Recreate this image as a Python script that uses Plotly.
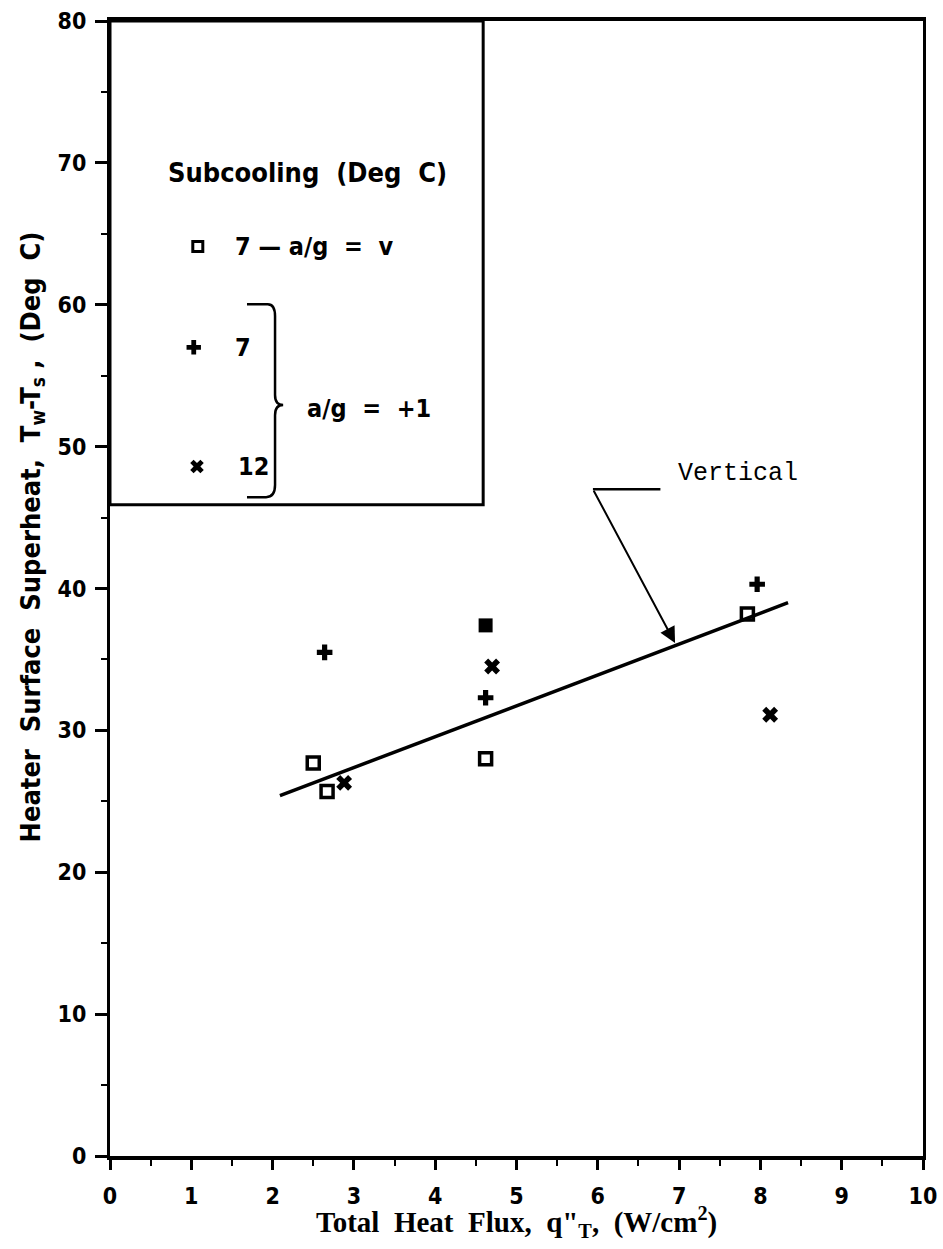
import plotly.graph_objects as go

# ---- data ----
sq_x = [2.50, 2.67, 4.62, 7.84]
sq_y = [27.7, 25.7, 28.0, 38.2]
sq_filled_x = [4.62]
sq_filled_y = [37.4]
plus_x = [2.64, 4.62, 7.96]
plus_y = [35.5, 32.3, 40.3]
cross_x = [2.88, 4.70, 8.12]
cross_y = [26.3, 34.5, 31.1]
fit_x = [2.09, 8.34]
fit_y = [25.4, 39.0]

x_ticks = list(range(0, 11))
y_ticks = list(range(0, 81, 10))

SANS = "DejaVu Sans Condensed, Liberation Sans, Arial"
SERIF = "Liberation Serif, Times New Roman, serif"
MONO = "Liberation Mono, Courier New, monospace"

fig = go.Figure()

fig.add_trace(go.Scatter(x=fit_x, y=fit_y, mode="lines",
                         line=dict(color="black", width=3.5), showlegend=False))
fig.add_trace(go.Scatter(x=sq_x, y=sq_y, mode="markers",
                         marker=dict(symbol="square-open", size=12, color="black",
                                     line=dict(width=3.5, color="black")),
                         showlegend=False))
fig.add_trace(go.Scatter(x=sq_filled_x, y=sq_filled_y, mode="markers",
                         marker=dict(symbol="square", size=14, color="black"),
                         showlegend=False))
fig.add_trace(go.Scatter(x=plus_x, y=plus_y, mode="markers",
                         marker=dict(symbol="cross", size=13, color="black"),
                         showlegend=False))
fig.add_trace(go.Scatter(x=cross_x, y=cross_y, mode="markers",
                         marker=dict(symbol="x", size=14, color="black"),
                         showlegend=False))

# legend box (drawn inside the plot)
fig.add_shape(type="rect", xref="x", yref="y", x0=0, x1=4.59, y0=45.9, y1=80,
              line=dict(color="black", width=3), fillcolor="white", layer="below")

# legend glyphs
fig.add_trace(go.Scatter(x=[1.08], y=[64.1], mode="markers",
                         marker=dict(symbol="square-open", size=10, color="black",
                                     line=dict(width=3, color="black")),
                         showlegend=False))
fig.add_trace(go.Scatter(x=[1.03], y=[57.0], mode="markers",
                         marker=dict(symbol="cross", size=12, color="black"),
                         showlegend=False))
fig.add_trace(go.Scatter(x=[1.07], y=[48.6], mode="markers",
                         marker=dict(symbol="x", size=12, color="black"),
                         showlegend=False))

# bracket
fig.add_shape(type="path", xref="x", yref="y",
              path=("M 1.685,60.04 L 1.94,60.04 Q 2.03,60.04 2.03,59.2 L 2.03,53.63 "
                    "Q 2.03,52.93 2.13,52.93 Q 2.03,52.93 2.03,52.22 L 2.03,47.29 "
                    "Q 2.03,46.44 1.92,46.44 L 1.685,46.44"),
              line=dict(color="black", width=2.5))

ann = []
ann.append(dict(x=2.43, y=69.3, xref="x", yref="y", text="Subcooling  (Deg  C)",
                showarrow=False, font=dict(family=SANS, size=27, color="black", weight="bold")))
ann.append(dict(x=1.51, y=64.1, xref="x", yref="y", text="7 — a/g  =  v", xanchor="left",
                showarrow=False, font=dict(family=SANS, size=25, color="black", weight="bold")))
ann.append(dict(x=1.51, y=57.0, xref="x", yref="y", text="7", xanchor="left",
                showarrow=False, font=dict(family=SANS, size=25, color="black", weight="bold")))
ann.append(dict(x=1.55, y=48.6, xref="x", yref="y", text="12", xanchor="left",
                showarrow=False, font=dict(family=SANS, size=25, color="black", weight="bold")))
ann.append(dict(x=2.40, y=52.7, xref="x", yref="y", text="a/g  =  +1", xanchor="left",
                showarrow=False, font=dict(family=SANS, size=25, color="black", weight="bold")))

# "Vertical" callout
fig.add_shape(type="line", xref="x", yref="y", x0=5.94, y0=47.0, x1=6.77, y1=47.0,
              line=dict(color="black", width=2.5))
ann.append(dict(x=6.95, y=36.15, xref="x", yref="y", ax=5.94, ay=47.0, axref="x", ayref="y",
                text="", showarrow=True, arrowhead=2, arrowsize=1.6, arrowwidth=2,
                arrowcolor="black"))
ann.append(dict(x=7.72, y=48.1, xref="x", yref="y", text="Vertical",
                showarrow=False, font=dict(family=MONO, size=25, color="black")))

# axis titles
ann.append(dict(x=0.5, y=0, xref="paper", yref="paper", yanchor="middle", yshift=-66,
                text="Total  Heat  Flux,  q\"<sub>T</sub>,  (W/cm<sup>2</sup>)",
                showarrow=False, font=dict(family=SERIF, size=29, color="black", weight="bold")))
ann.append(dict(x=0, y=0.545, xref="paper", yref="paper", xanchor="center", xshift=-78,
                textangle=-90,
                text="Heater  Surface  Superheat,  T<sub>w</sub>-T<sub>s</sub> ,  (Deg  C)",
                showarrow=False, font=dict(family=SANS, size=27, color="black", weight="bold")))

fig.update_layout(
    width=943, height=1249, autosize=False,
    margin=dict(l=110, r=20, t=21, b=93, autoexpand=False),
    paper_bgcolor="white", plot_bgcolor="white",
    annotations=ann, showlegend=False,
)

fig.update_xaxes(range=[0, 10], tickvals=x_ticks, ticks="outside", ticklen=10, tickwidth=2.5,
                 tickcolor="black", showline=True, linecolor="black", linewidth=4, mirror=True,
                 showgrid=False, zeroline=False, automargin=False,
                 minor=dict(dtick=0.5, ticks="outside", ticklen=6, tickwidth=2, tickcolor="black"),
                 tickfont=dict(family=SANS, size=23, color="black", weight="bold"),
                 ticklabelstandoff=6)
fig.update_yaxes(range=[0, 80], tickvals=y_ticks, ticks="outside", ticklen=12, tickwidth=2.5,
                 tickcolor="black", showline=True, linecolor="black", linewidth=3, mirror=True,
                 showgrid=False, zeroline=False, automargin=False,
                 minor=dict(dtick=5, ticks="outside", ticklen=6, tickwidth=2, tickcolor="black"),
                 tickfont=dict(family=SANS, size=23, color="black", weight="bold"),
                 ticklabelstandoff=4)

fig.write_html("out.html", config={"displayModeBar": False},
               post_script="document.body.style.margin='0';document.body.style.overflow='hidden';")
